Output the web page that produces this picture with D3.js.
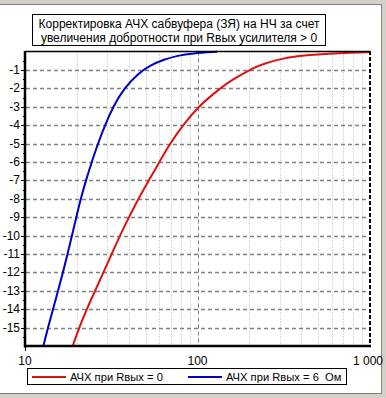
<!DOCTYPE html>
<html>
<head>
<meta charset="utf-8">
<script src="https://d3js.org/d3.v7.min.js"></script>
<style>
  body { margin: 0; background: #fff; }
  text { font-family: "Liberation Sans", Arial, sans-serif; fill: #000; white-space: pre; }
</style>
</head>
<body>
<svg width="386" height="398"></svg>
<script>
// red: Rвых = 0
const redFreq = [18.9, 20.6, 22.8, 25.5, 28.5, 31.8, 35.5, 40.1, 45.4, 52.3, 60.1, 69.3, 82.4, 100.7, 135, 160.6, 201.6, 222.7, 246.2, 277.6, 309, 353.1, 420, 586, 766, 1000];
const redDb   = [-16, -15, -14, -13, -12, -11, -10, -9, -8, -7, -6, -5, -4, -3, -2, -1.5, -1, -0.8, -0.65, -0.5, -0.4, -0.3, -0.21, -0.11, -0.06, -0.03];
// blue: Rвых = 6 Ом
const blueFreq = [12.77, 13.6, 14.53, 15.54, 16.61, 17.64, 18.73, 19.83, 21.03, 22.57, 24.36, 26.5, 29.1, 32.4, 37.5, 45.2, 53.0, 63.1, 77.1, 92.9, 129.7];
const blueDb   = [-16, -15, -14, -13, -12, -11, -10, -9, -8, -7, -6, -5, -4, -3, -2, -1.2, -0.76, -0.45, -0.22, -0.1, -0.02];

const yTicks = d3.range(-15, 0);          // -15 .. -1
const xLabels = [[10, "10"], [100, "100"], [1000, "1 000"]];
const titleLines = ["Корректировка АЧХ сабвуфера (ЗЯ) на НЧ за счет", "увеличения добротности при Rвых усилителя > 0"];
const legendItems = [["АЧХ при Rвых = 0", "#e01010"], ["АЧХ при Rвых = 6  Ом", "#0000c8"]];

const svg = d3.select("svg");
const x = d3.scaleLog().domain([10, 1000]).range([25, 370]);
const y = d3.scaleLinear().domain([-16, 0]).range([346, 51.5]);

// window frame
svg.append("rect").attr("x", 0).attr("y", 0).attr("width", 386).attr("height", 4).attr("fill", "#d4d0c8");
svg.append("line").attr("x1", 0).attr("x2", 382).attr("y1", 4.5).attr("y2", 4.5).attr("stroke", "#808080");
svg.append("rect").attr("x", 382).attr("y", 0).attr("width", 4).attr("height", 398).attr("fill", "#d4d0c8");
svg.append("line").attr("x1", 381.5).attr("x2", 381.5).attr("y1", 4).attr("y2", 394).attr("stroke", "#808080");
svg.append("rect").attr("x", 0).attr("y", 394).attr("width", 386).attr("height", 4).attr("fill", "#d4d0c8");
svg.append("line").attr("x1", 0).attr("x2", 382).attr("y1", 393.5).attr("y2", 393.5).attr("stroke", "#808080");

// vertical grid
const minor = [];
[10, 100].forEach(d => { for (let k = 2; k <= 9; k++) minor.push(d * k); });
svg.selectAll(".vg").data(minor).enter().append("line")
  .attr("x1", d => Math.round(x(d)) + 0.5).attr("x2", d => Math.round(x(d)) + 0.5)
  .attr("y1", y(0)).attr("y2", y(-16))
  .attr("stroke", "#b4b4b4").attr("stroke-dasharray", "1,2");
svg.append("line")
  .attr("x1", Math.round(x(100)) + 0.5).attr("x2", Math.round(x(100)) + 0.5)
  .attr("y1", y(0)).attr("y2", y(-16))
  .attr("stroke", "#808080").attr("stroke-dasharray", "4,3");

// horizontal grid
svg.selectAll(".hg").data(yTicks).enter().append("line")
  .attr("x1", 26).attr("x2", 369)
  .attr("y1", d => Math.round(y(d)) + 0.5).attr("y2", d => Math.round(y(d)) + 0.5)
  .attr("stroke", "#808080").attr("stroke-width", 1.5).attr("stroke-dasharray", "4,3");

// curves
svg.append("clipPath").attr("id", "clip").append("rect")
  .attr("x", 25).attr("y", 50).attr("width", 345).attr("height", 296);
const line = d3.line().x(d => x(d[0])).y(d => y(d[1])).curve(d3.curveBasis);
svg.append("path").datum(d3.zip(redFreq, redDb))
  .attr("d", line).attr("fill", "none").attr("stroke", legendItems[0][1]).attr("stroke-width", 2)
  .attr("clip-path", "url(#clip)");
svg.append("path").datum(d3.zip(blueFreq, blueDb))
  .attr("d", line).attr("fill", "none").attr("stroke", legendItems[1][1]).attr("stroke-width", 2)
  .attr("clip-path", "url(#clip)");

// frame of plot
svg.append("line").attr("x1", 25).attr("x2", 370).attr("y1", 51.5).attr("y2", 51.5).attr("stroke", "#000").attr("stroke-width", 1.5);
svg.append("line").attr("x1", 370).attr("x2", 370).attr("y1", 51).attr("y2", 346)
  .attr("stroke", "#000").attr("stroke-width", 2).attr("stroke-dasharray", "4,2");
svg.append("line").attr("x1", 25).attr("x2", 25).attr("y1", 51).attr("y2", 347.5).attr("stroke", "#000").attr("stroke-width", 2.5);
svg.append("line").attr("x1", 24).attr("x2", 371).attr("y1", 346).attr("y2", 346).attr("stroke", "#000").attr("stroke-width", 2.5);

// y ticks
svg.selectAll(".yt").data(yTicks).enter().append("line")
  .attr("x1", 21).attr("x2", 25)
  .attr("y1", d => Math.round(y(d)) + 0.5).attr("y2", d => Math.round(y(d)) + 0.5)
  .attr("stroke", "#000");
svg.selectAll(".ymt").data(d3.range(-15.5, 0, 1)).enter().append("line")
  .attr("x1", 23).attr("x2", 25)
  .attr("y1", d => Math.round(y(d)) + 0.5).attr("y2", d => Math.round(y(d)) + 0.5)
  .attr("stroke", "#000");
svg.selectAll(".yl").data(yTicks).enter().append("text")
  .attr("x", 20).attr("y", d => y(d) + 4)
  .attr("text-anchor", "end").attr("font-size", 12)
  .text(d => d);
svg.append("line").attr("x1", 25.5).attr("x2", 25.5).attr("y1", 346).attr("y2", 351).attr("stroke", "#000");

// x labels
svg.selectAll(".xl").data(xLabels).enter().append("text")
  .attr("x", (d, i) => x(d[0]) + (i === 2 ? -2 : 0)).attr("y", 365)
  .attr("text-anchor", "middle").attr("font-size", 12)
  .text(d => d[1]);

// title box
svg.append("rect").attr("x", 32.5).attr("y", 14.5).attr("width", 293).attr("height", 31)
  .attr("fill", "#fff").attr("stroke", "#000");
svg.selectAll(".tt").data(titleLines).enter().append("text")
  .attr("x", 179).attr("y", (d, i) => 28 + i * 14)
  .attr("text-anchor", "middle").attr("font-size", 12)
  .text(d => d);

// legend
svg.append("rect").attr("x", 27.5).attr("y", 368.5).attr("width", 319).attr("height", 16)
  .attr("fill", "#fff").attr("stroke", "#000");
const lg = svg.selectAll(".lg").data(legendItems).enter().append("g")
  .attr("transform", (d, i) => `translate(${i ? 188 : 32},0)`);
lg.append("line").attr("x1", 0).attr("x2", 34).attr("y1", 377).attr("y2", 377)
  .attr("stroke", d => d[1]).attr("stroke-width", 2);
lg.append("text").attr("x", 38).attr("y", 381).attr("font-size", 11.2).text(d => d[0]);
</script>
</body>
</html>
